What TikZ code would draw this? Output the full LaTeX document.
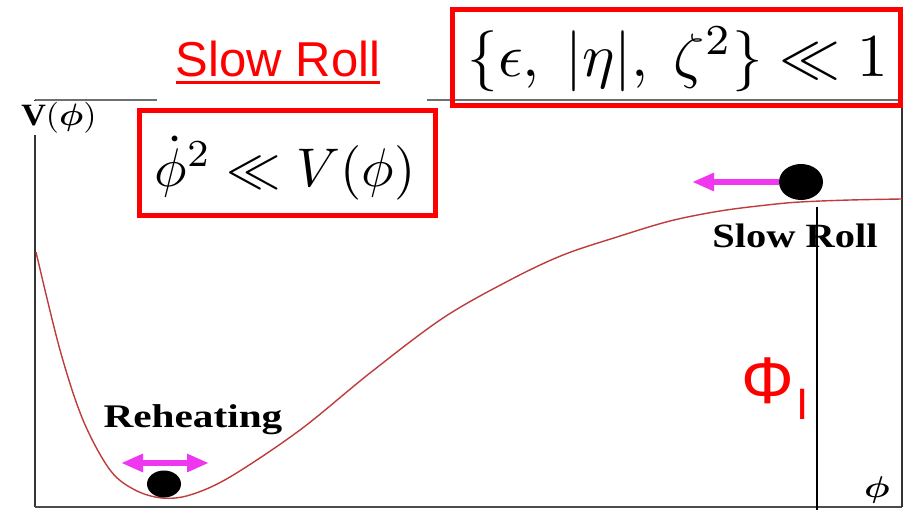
\documentclass[tikz,border=0pt]{standalone}
\usepackage{fontspec}
\usepackage{bm}
\setmainfont{Liberation Serif}
\newfontfamily\arialfont{Liberation Sans}
\usetikzlibrary{arrows.meta,shapes.geometric}
\definecolor{magentaA}{RGB}{238,55,238}
\definecolor{curvecol}{RGB}{190,60,60}
\definecolor{framegray}{RGB}{110,110,110}
\tikzset{
  redbox/.style={draw=red, line width=5pt, inner sep=0pt},
  ball/.style={fill=black, ellipse},
  framestyle/.style={draw=framegray, line width=2pt},
}
\begin{document}
\begin{tikzpicture}[x=1pt,y=-1pt]
\useasboundingbox (0,0) rectangle (904,510);
\fill[white] (0,0) rectangle (904,510);
% frame
\coordinate (tl) at (35,100);
\coordinate (tla) at (157,100);
\coordinate (tlb) at (427,100);
\coordinate (tr) at (902,100);
\coordinate (bl) at (35,507);
\coordinate (br) at (902,507);
\draw[framestyle] (tl) -- (tla);
\draw[framestyle] (tlb) -- (tr);
\draw[framestyle, draw=black!80] (tl) -- (bl);
\draw[framestyle, draw=black!70, line width=2.5pt] (bl) -- (br);
\draw[framestyle, draw=black!80] (tr) -- (br);
% potential curve
\draw[curvecol, line width=1.4pt] plot[smooth, tension=0.55] coordinates {
 (36,252) (60,350) (83,420) (110,470) (135,490) (162,498) (190,495)
 (230,477) (300,430) (370,373) (443,318) (510,280) (563,255) (617,237)
 (670,221) (720,211) (767,205) (800,202) (850,200) (902,199)};
% vertical marker line
\coordinate (vtop) at (817,207);
\coordinate (vbot) at (817,510);
% labels
\node[fill=white, inner sep=0.5pt, anchor=base, xscale=3.4, yscale=3.1] (vlab) at (59,126)
  {$\mathbf{V}(\bm{\phi})$};
\node[anchor=base, inner sep=0pt, xscale=3.6, yscale=3.0] (philab) at (877,497)
  {$\bm{\phi}$};
\node[fill=white, fill opacity=0.9, text opacity=1, inner sep=2pt, anchor=base, xscale=1.19] (srlab) at (795,248)
  {\fontsize{34}{36}\selectfont\bfseries Slow Roll};
\draw[black, line width=2pt] (vtop) -- (vbot);
\node[anchor=base, inner sep=0pt, xscale=1.25] (rhlab) at (193,427)
  {\fontsize{33}{36}\selectfont\bfseries Reheating};
% balls and arrows
\node[ball, minimum width=34pt, minimum height=27pt, inner sep=0pt] (rball) at (164,484) {};
\node[ball, minimum width=44pt, minimum height=36pt, inner sep=0pt] (sball) at (801,182) {};
\coordinate (rl) at (121,463);
\coordinate (rr) at (209,463);
\coordinate (sl) at (692,182);
\draw[magentaA, line width=6pt, {Triangle[length=22pt,width=17pt]}-{Triangle[length=22pt,width=17pt]}] (rl) -- (rr);
\draw[magentaA, line width=6pt, -{Triangle[length=22pt,width=17pt]}] (sball.west) -- (sl);
% Phi_I
\node[anchor=base, inner sep=0pt, text=red] (Phi) at (768,403)
  {\fontsize{66}{70}\selectfont\arialfont Φ};
\node[anchor=base, inner sep=0pt, text=red] (PhiSub) at (803,419)
  {\fontsize{44}{48}\selectfont\arialfont I};
% title
\node[anchor=base, inner sep=0pt, text=red] (title) at (278,77)
  {\fontsize{49}{52}\selectfont\arialfont Slow Roll};
\draw[red, line width=3pt] (title.base west) ++(0,5.5) coordinate (ul1) -- (ul1 -| title.base east);
% boxes
\node[redbox, minimum width=296pt, minimum height=105pt] (box1) at (287.5,163) {};
\node[scale=5.45, inner sep=0pt] (eq1) at (285,168) {$\dot\phi^2 \ll V(\phi)$};
\node[redbox, minimum width=448pt, minimum height=96pt] (box2) at (676.5,57.5) {};
\node[scale=6.1, inner sep=0pt] (eq2) at (678,59) {$\{\epsilon,\ |\eta|,\ \zeta^2\} \ll 1$};
\end{tikzpicture}
\end{document}
